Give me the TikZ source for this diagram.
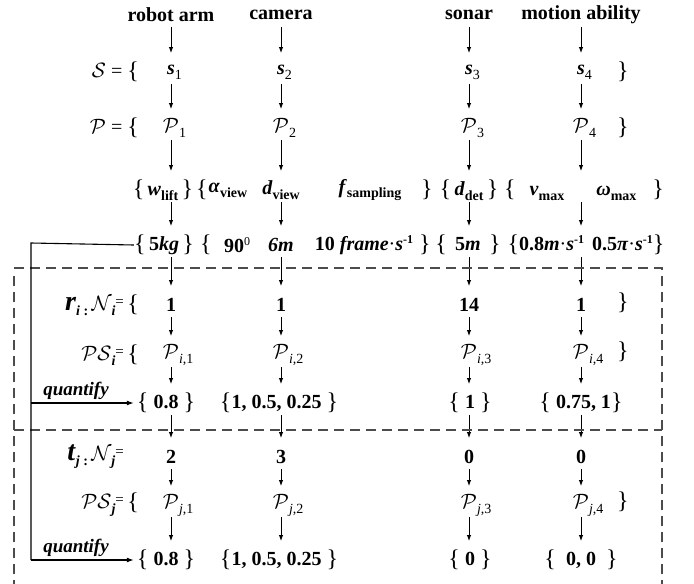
\documentclass[tikz,border=0pt]{standalone}
\usepackage{fontspec}
\setmainfont{Liberation Serif}
\usetikzlibrary{arrows.meta}
\tikzset{
  lbl/.style={font=\fontsize{20}{24}\selectfont\bfseries, inner sep=0pt},
  arr/.style={-{Latex[length=6pt,width=4.5pt]}, line width=0.9pt, shorten <=12pt, shorten >=19pt},
  sepline/.style={dash pattern=on 10pt off 6pt, line width=1.4pt, draw=black!70},
  feed/.style={line width=1.1pt},
  feedarr/.style={line width=1.1pt, -{Latex[length=7pt,width=5pt]}},
  qlbl/.style={font=\fontsize{19}{22}\selectfont\bfseries\itshape, inner sep=0pt},
}
\newcommand{\bi}[1]{\textbf{\textit{#1}}}
\newcommand{\mysub}[1]{\raisebox{-5pt}{\fontsize{14}{14}\selectfont #1}}
\newcommand{\mysup}[1]{\raisebox{7pt}{\fontsize{12}{12}\selectfont #1}}
\newcommand{\lb}{{\mdseries\fontsize{24}{24}\selectfont\raisebox{-1pt}{\{}}}
\newcommand{\rb}{{\mdseries\fontsize{24}{24}\selectfont\raisebox{-1pt}{\}}}}
\newcommand{\cP}{$\mathcal{P}$}
\newcommand{\smeq}{\raisebox{4pt}{\fontsize{15}{15}\selectfont\mdseries =}}
\newcommand{\Pij}[2]{$\mathcal{P}$\rlap{\mysub{\mdseries\textit{#1},#2}}}
\begin{document}
\begin{tikzpicture}[x=1pt,y=-1pt]
\useasboundingbox (0,0) rectangle (694,584);
% column coordinates
\coordinate (c1) at (171,0);
\coordinate (c2) at (281,0);
\coordinate (c3) at (469,0);
\coordinate (c4) at (581,0);
% titles
\node[lbl] (t1) at (171,15) {robot arm};
\node[lbl] (t2) at (281,15) {camera};
\node[lbl] (t3) at (469,15) {sonar};
\node[lbl] (t4) at (581,15) {motion ability};
% S row
\node[lbl, anchor=east] (Slab) at (139,72) {{\mdseries$\mathcal{S}$ = }\lb};
\node[lbl] (s1) at (171,72) {\bi{s}\rlap{\mysub{\mdseries 1}}};
\node[lbl] (s2) at (281,72) {\bi{s}\rlap{\mysub{\mdseries 2}}};
\node[lbl] (s3) at (469,72) {\bi{s}\rlap{\mysub{\mdseries 3}}};
\node[lbl] (s4) at (581,72) {\bi{s}\rlap{\mysub{\mdseries 4}}};
\node[lbl] (Srb) at (623,72) {\rb};
% P row
\node[lbl, anchor=east] (Plab) at (139,128) {{\mdseries$\mathcal{P}$ = }\lb};
\node[lbl] (p1) at (171,128) {\cP\rlap{\mysub{\mdseries 1}}};
\node[lbl] (p2) at (281,128) {\cP\rlap{\mysub{\mdseries 2}}};
\node[lbl] (p3) at (469,128) {\cP\rlap{\mysub{\mdseries 3}}};
\node[lbl] (p4) at (581,128) {\cP\rlap{\mysub{\mdseries 4}}};
\node[lbl] (Prb) at (623,128) {\rb};
% parameter row
\node[lbl] (a1) at (163,190) {\lb\,\bi{w}\mysub{lift}\,\rb};
\node[lbl] (a2l) at (202,190) {\lb};
\node[lbl] (a2a) at (228,190) {\bi{α}\mysub{view}};
\node[lbl] (a2) at (281,190) {\bi{d}\mysub{view}};
\node[lbl] (a2f) at (370,190) {\bi{f}\mysub{sampling}};
\node[lbl] (a2r) at (427,190) {\rb};
\node[lbl] (a3) at (469,190) {\lb\,\bi{d}\mysub{det}\,\rb};
\node[lbl] (a4) at (584,190) {\lb\hspace{14pt}\bi{v}\mysub{max}\hspace{32pt}\bi{ω}\mysub{max}\hspace{16pt}\rb};
% values row
\node[lbl] (v1) at (164,245) {\lb\,5\bi{kg}\,\rb};
\node[lbl] (v2l) at (206,245) {\lb};
\node[lbl] (v2a) at (237,245) {90\mysup{\mdseries 0}};
\node[lbl] (v2) at (281,245) {\bi{6m}};
\node[lbl] (v2f) at (364,245) {10 \bi{frame}{\mdseries·}\bi{s}\mysup{-1}};
\node[lbl] (v2r) at (425,245) {\rb};
\node[lbl] (v3) at (468,245) {\lb\, 5\bi{m} \,\rb};
\node[lbl] (v4) at (586,245) {\lb 0.8\bi{m}{\mdseries·}\bi{s}\mysup{-1}\hspace{8pt}0.5\bi{π}{\mdseries·}\bi{s}\mysup{-1}\rb};
% r_i block
\node[lbl, anchor=east] (Nilab) at (139,305) {\bi{\fontsize{28}{30}\selectfont r}\mysub{\bi{i} :}\,{\mdseries$\mathcal{N}$}\mysub{\bi{i}}\smeq\,\lb};
\node[lbl] (ni1) at (171,305) {1};
\node[lbl] (ni2) at (281,305) {1};
\node[lbl] (ni3) at (469,305) {14};
\node[lbl] (ni4) at (581,305) {1};
\node[lbl] (Nirb) at (623,303) {\rb};
\node[lbl, anchor=east] (PSilab) at (139,355) {{\mdseries$\mathcal{PS}$}\mysub{\bi{i}}\smeq\,\lb};
\node[lbl] (pi1) at (171,355) {\Pij{i}{1}};
\node[lbl] (pi2) at (281,355) {\Pij{i}{2}};
\node[lbl] (pi3) at (469,355) {\Pij{i}{3}};
\node[lbl] (pi4) at (581,355) {\Pij{i}{4}};
\node[lbl] (PSirb) at (623,352) {\rb};
\node[lbl] (qi1) at (166,403) {\lb\ 0.8 \rb};
\node[lbl] (qi2) at (279,403) {\lb 1, 0.5, 0.25 \rb};
\node[lbl] (qi3) at (470,403) {\lb\ 1 \rb};
\node[lbl] (qi4) at (581,403) {\lb\ 0.75, 1\rb};
% t_j block
\node[lbl, anchor=east] (Njlab) at (124,457) {\bi{\fontsize{28}{30}\selectfont t}\mysub{\bi{j} :}\,{\mdseries$\mathcal{N}$}\mysub{\bi{j}}\smeq};
\node[lbl] (nj1) at (171,457) {2};
\node[lbl] (nj2) at (281,457) {3};
\node[lbl] (nj3) at (469,457) {0};
\node[lbl] (nj4) at (581,457) {0};
\node[lbl, anchor=east] (PSjlab) at (139,505) {{\mdseries$\mathcal{PS}$}\mysub{\bi{j}}\smeq\,\lb};
\node[lbl] (pj1) at (171,505) {\Pij{j}{1}};
\node[lbl] (pj2) at (281,505) {\Pij{j}{2}};
\node[lbl] (pj3) at (469,505) {\Pij{j}{3}};
\node[lbl] (pj4) at (581,505) {\Pij{j}{4}};
\node[lbl] (PSjrb) at (623,502) {\rb};
\node[lbl] (qj1) at (166,560) {\lb\ 0.8 \rb};
\node[lbl] (qj2) at (279,560) {\lb 1, 0.5, 0.25 \rb};
\node[lbl] (qj3) at (470,560) {\lb\ 0 \rb};
\node[lbl] (qj4) at (581,560) {\lb\ \ 0, 0\ \ \rb};
% vertical arrows
\foreach \c/\t/\s/\p/\a/\v/\n/\pi/\q/\nj/\pj/\qj in {
  c1/t1/s1/p1/a1/v1/ni1/pi1/qi1/nj1/pj1/qj1,
  c2/t2/s2/p2/a2/v2/ni2/pi2/qi2/nj2/pj2/qj2,
  c3/t3/s3/p3/a3/v3/ni3/pi3/qi3/nj3/pj3/qj3,
  c4/t4/s4/p4/a4/v4/ni4/pi4/qi4/nj4/pj4/qj4}{
  \draw[arr] (\t -| \c) -- (\s -| \c);
  \draw[arr] (\s -| \c) -- (\p -| \c);
  \draw[arr] (\p -| \c) -- (\a -| \c);
  \draw[arr] (\a -| \c) -- (\v -| \c);
  \draw[arr] (\v -| \c) -- (\n -| \c);
  \draw[arr] (\n -| \c) -- (\pi -| \c);
  \draw[arr] (\pi -| \c) -- (\q -| \c);
  \draw[arr] (\q -| \c) -- (\nj -| \c);
  \draw[arr] (\nj -| \c) -- (\pj -| \c);
  \draw[arr] (\pj -| \c) -- (\qj -| \c);
}
% dashed separators
\coordinate (dTL) at (14,268);
\coordinate (dTR) at (662,268);
\coordinate (dML) at (14,430);
\coordinate (dMR) at (662,430);
\coordinate (dBL) at (14,584);
\coordinate (dBR) at (662,584);
\draw[sepline] (dTL) -- (dTR) -- (dBR);
\draw[sepline] (dML) -- (dMR);
\draw[sepline] ([yshift=-8pt]dTL) -- (dBL);
% feed line
\coordinate (fTop) at (31,243);
\coordinate (fMid) at (31,403);
\coordinate (fBot) at (31,560);
\draw[feed] (v1.west) -- (fTop) -- (fBot);
\draw[feedarr] (fMid) -- ([xshift=-3pt]qi1.west);
\draw[feedarr] (fBot) -- ([xshift=-3pt]qj1.west);
\node[qlbl, anchor=south] (q1lab) at (76,400) {quantify};
\node[qlbl, anchor=south] (q2lab) at (76,557) {quantify};
\end{tikzpicture}
\end{document}
